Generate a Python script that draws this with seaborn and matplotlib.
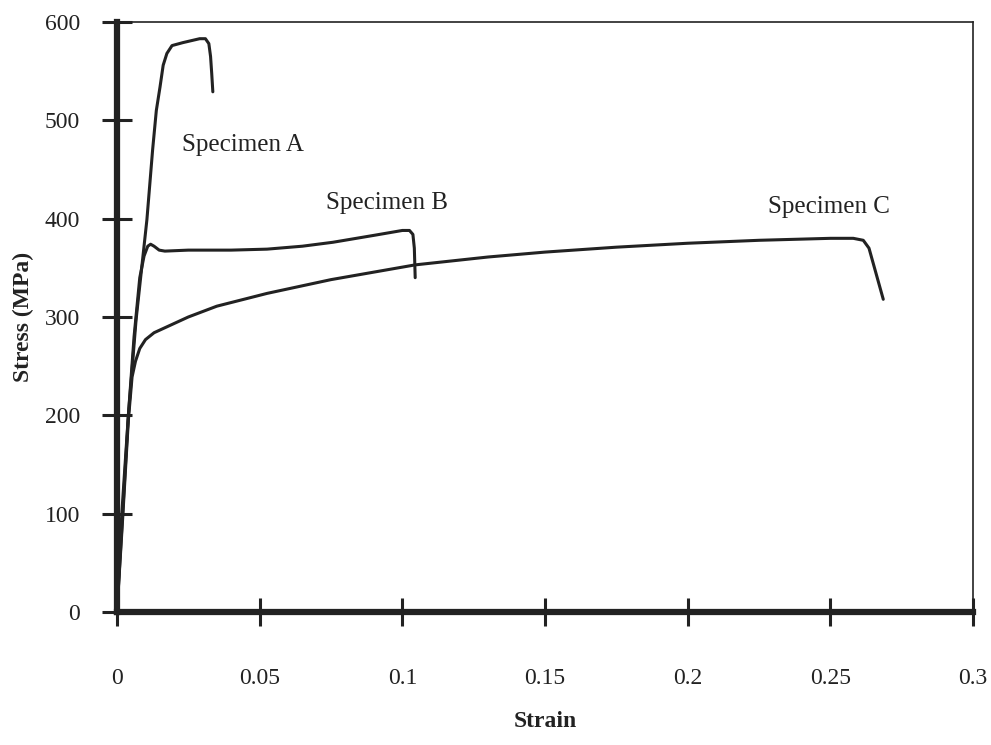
"""
Stress-strain curves for three specimens
"""

## Import packages
import numpy as np
import pandas as pd
import matplotlib
matplotlib.use('Agg')
import matplotlib.pyplot as plt
import seaborn as sns


## Data (strain, stress in MPa)
strain_a = [0, 0.0017, 0.004, 0.0067, 0.0105, 0.0125, 0.0138, 0.0151, 0.0162, 0.0175,
            0.0193, 0.0231, 0.029, 0.031, 0.0322, 0.0328, 0.0332, 0.0336]
stress_a = [0, 100, 200, 297, 399, 470, 510, 534, 556, 568,
            576, 579, 583, 583, 578, 565, 548, 529]

strain_b = [0, 0.002, 0.004, 0.006, 0.008, 0.0095, 0.0108, 0.0118, 0.013, 0.0148,
            0.0168, 0.025, 0.04, 0.0526, 0.065, 0.0757, 0.09, 0.1, 0.1025, 0.1037,
            0.1042, 0.1045]
stress_b = [0, 100, 200, 280, 340, 362, 372, 374, 372, 368,
            367, 368, 368, 369, 372, 376, 383, 388, 388, 384,
            370, 340]

strain_c = [0, 0.002, 0.004, 0.0053, 0.0065, 0.008, 0.010, 0.013, 0.0175, 0.025,
            0.035, 0.0526, 0.075, 0.1045, 0.13, 0.15, 0.175, 0.2, 0.225, 0.25,
            0.258, 0.2615, 0.2635, 0.2685]
stress_c = [0, 95, 195, 239, 255, 268, 277, 284, 290, 300,
            311, 324, 338, 353, 361, 366, 371, 375, 378, 380,
            380, 378, 370, 318]

specimens = ['Specimen A', 'Specimen B', 'Specimen C']

# Label positions (strain, stress)
label_x = [0.044, 0.0947, 0.2495]
label_y = [475, 416, 412]


## Build long-form dataframe
df = pd.concat([
    pd.DataFrame({'strain': strain_a, 'stress': stress_a, 'specimen': specimens[0]}),
    pd.DataFrame({'strain': strain_b, 'stress': stress_b, 'specimen': specimens[1]}),
    pd.DataFrame({'strain': strain_c, 'stress': stress_c, 'specimen': specimens[2]}),
], ignore_index=True)


## Figure style
sns.set_theme(style='white')
plt.rcParams['font.family'] = ['Liberation Serif', 'DejaVu Serif']

ink = '#222222'

fig = plt.figure(figsize=(9.91, 7.45), dpi=100)
ax = fig.add_axes([0.118, 0.1785, 0.864, 0.792])

sns.lineplot(data=df, x='strain', y='stress', hue='specimen', units='specimen',
             estimator=None, sort=False, palette=[ink] * 3, linewidth=2.2,
             legend=False, ax=ax)

# Curve labels
for name, lx, ly in zip(specimens, label_x, label_y):
    ax.text(lx, ly, name, fontsize=18, color=ink, ha='center', va='center')

## Axes
ax.set_xlim(0, 0.3)
ax.set_ylim(0, 600)
ax.set_xticks(np.arange(0, 0.31, 0.05))
ax.set_xticklabels(['0', '0.05', '0.1', '0.15', '0.2', '0.25', '0.3'])
ax.set_yticks(np.arange(0, 601, 100))

ax.set_xlabel('Strain', fontsize=17, fontweight='bold', color=ink, labelpad=16)
ax.set_ylabel('Stress (MPa)', fontsize=17, fontweight='bold', color=ink, labelpad=8)

ax.tick_params(axis='x', direction='inout', length=20, width=2.2, pad=30,
               labelsize=17, colors=ink, bottom=True)
ax.tick_params(axis='y', direction='inout', length=21, width=2.2, pad=16,
               labelsize=17, colors=ink, left=True)

for side in ['left', 'bottom']:
    ax.spines[side].set_linewidth(4.5)
    ax.spines[side].set_color(ink)
for side in ['top', 'right']:
    ax.spines[side].set_linewidth(1.2)
    ax.spines[side].set_color(ink)

fig.savefig('out.png', dpi=100)
